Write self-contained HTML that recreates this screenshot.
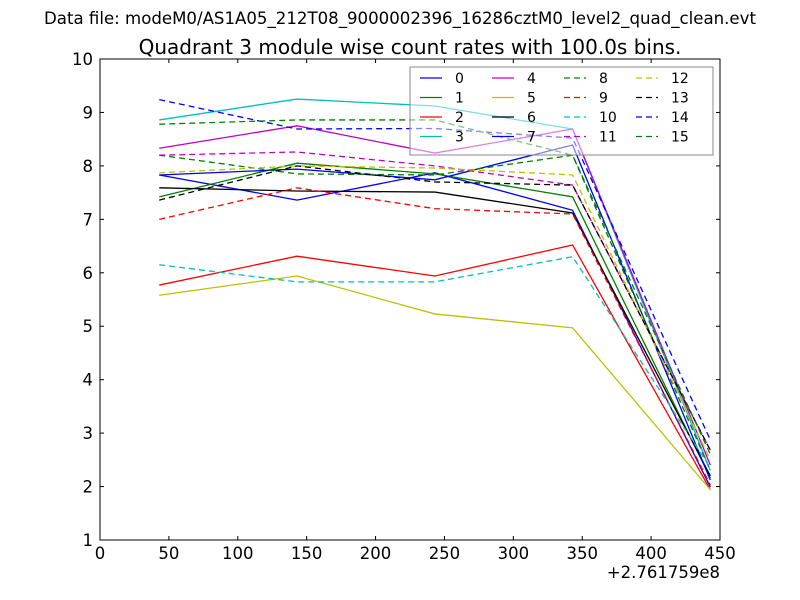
<!DOCTYPE html>
<html><head><meta charset="utf-8"><style>body{margin:0;background:#fff}svg{display:block}text{font-family:"DejaVu Sans","Liberation Sans",sans-serif}</style></head>
<body>
<svg id="c" width="800" height="600"></svg>
<script>
const xVals=[43,143,243,343,443];
const s0=[7.83,7.36,7.87,7.17,1.99];
const s1=[7.42,8.05,7.85,7.42,2.16];
const s2=[5.77,6.31,5.94,6.52,1.94];
const s3=[8.86,9.25,9.12,8.69,2.3];
const s4=[8.33,8.75,8.24,8.69,2.4];
const s5=[5.58,5.94,5.23,4.97,1.94];
const s6=[7.59,7.53,7.51,7.12,2.2];
const s7=[7.83,7.94,7.74,8.39,2.12];
const s8=[8.2,7.85,7.83,8.2,2.3];
const s9=[7.0,7.59,7.2,7.1,2.03];
const s10=[6.15,5.83,5.83,6.3,2.35];
const s11=[8.2,8.26,8.0,7.64,2.68];
const s12=[7.87,8.0,7.96,7.83,2.5];
const s13=[7.36,8.0,7.7,7.64,2.68];
const s14=[9.24,8.69,8.7,8.52,2.87];
const s15=[8.78,8.86,8.86,8.2,2.6];
const xTicks=[0,50,100,150,200,250,300,350,400,450];
const yTicks=[1,2,3,4,5,6,7,8,9,10];
const series=[s0,s1,s2,s3,s4,s5,s6,s7,s8,s9,s10,s11,s12,s13,s14,s15];
const colors=['#0000ff','#008000','#ff0000','#00bfbf','#bf00bf','#bfbf00','#000000'];
const X=v=>100+v*620/450, Y=v=>540-(v-1)*481/9;
const svg=document.getElementById('c');const NS='http://www.w3.org/2000/svg';
function mk(t,a,p){const e=document.createElementNS(NS,t);for(const k in a)e.setAttribute(k,a[k]);(p||svg).appendChild(e);return e;}
let t=mk('text',{x:400,y:24,'text-anchor':'middle','font-size':16.6});t.textContent='Data file: modeM0/AS1A05_212T08_9000002396_16286cztM0_level2_quad_clean.evt';

t=mk('text',{x:410,y:54,'text-anchor':'middle','font-size':20});t.textContent='Quadrant 3 module wise count rates with 100.0s bins.';

series.forEach((s,i)=>{const p=mk('polyline',{points:s.map((v,j)=>X(xVals[j])+','+Y(v)).join(' '),fill:'none',stroke:colors[i%7],'stroke-width':1.3});
if(i>=8)p.setAttribute('stroke-dasharray','6,4');
});
const ax=mk('rect',{x:100,y:59,width:620,height:481,fill:'none',stroke:'#000','stroke-width':1});

xTicks.forEach(v=>{mk('line',{x1:X(v),x2:X(v),y1:540,y2:536,stroke:'#000'});mk('line',{x1:X(v),x2:X(v),y1:59,y2:63,stroke:'#000'});
const l=mk('text',{x:X(v),y:559,'text-anchor':'middle','font-size':16.5});l.textContent=v;});
yTicks.forEach(v=>{mk('line',{x1:100,x2:104,y1:Y(v),y2:Y(v),stroke:'#000'});mk('line',{x1:720,x2:716,y1:Y(v),y2:Y(v),stroke:'#000'});
const l=mk('text',{x:93,y:Y(v)+6,'text-anchor':'end','font-size':16.5});l.textContent=v;});
t=mk('text',{x:720,y:578,'text-anchor':'end','font-size':16.5});t.textContent='+2.761759e8';
const lg=mk('g',{});
mk('rect',{x:410,y:67,width:303,height:88,fill:'rgba(255,255,255,0.5)',stroke:'#888'},lg);
series.forEach((s,i)=>{const c=Math.floor(i/4),r=i%4;const x0=420+c*72,y0=78+r*19.5;
const ln=mk('line',{x1:x0,x2:x0+22,y1:y0,y2:y0,stroke:colors[i%7],'stroke-width':1.3},lg);if(i>=8)ln.setAttribute('stroke-dasharray','6,4');
const e=mk('text',{x:x0+35,y:y0+5,'font-size':14},lg);e.textContent=i;});
</script>
</body></html>
